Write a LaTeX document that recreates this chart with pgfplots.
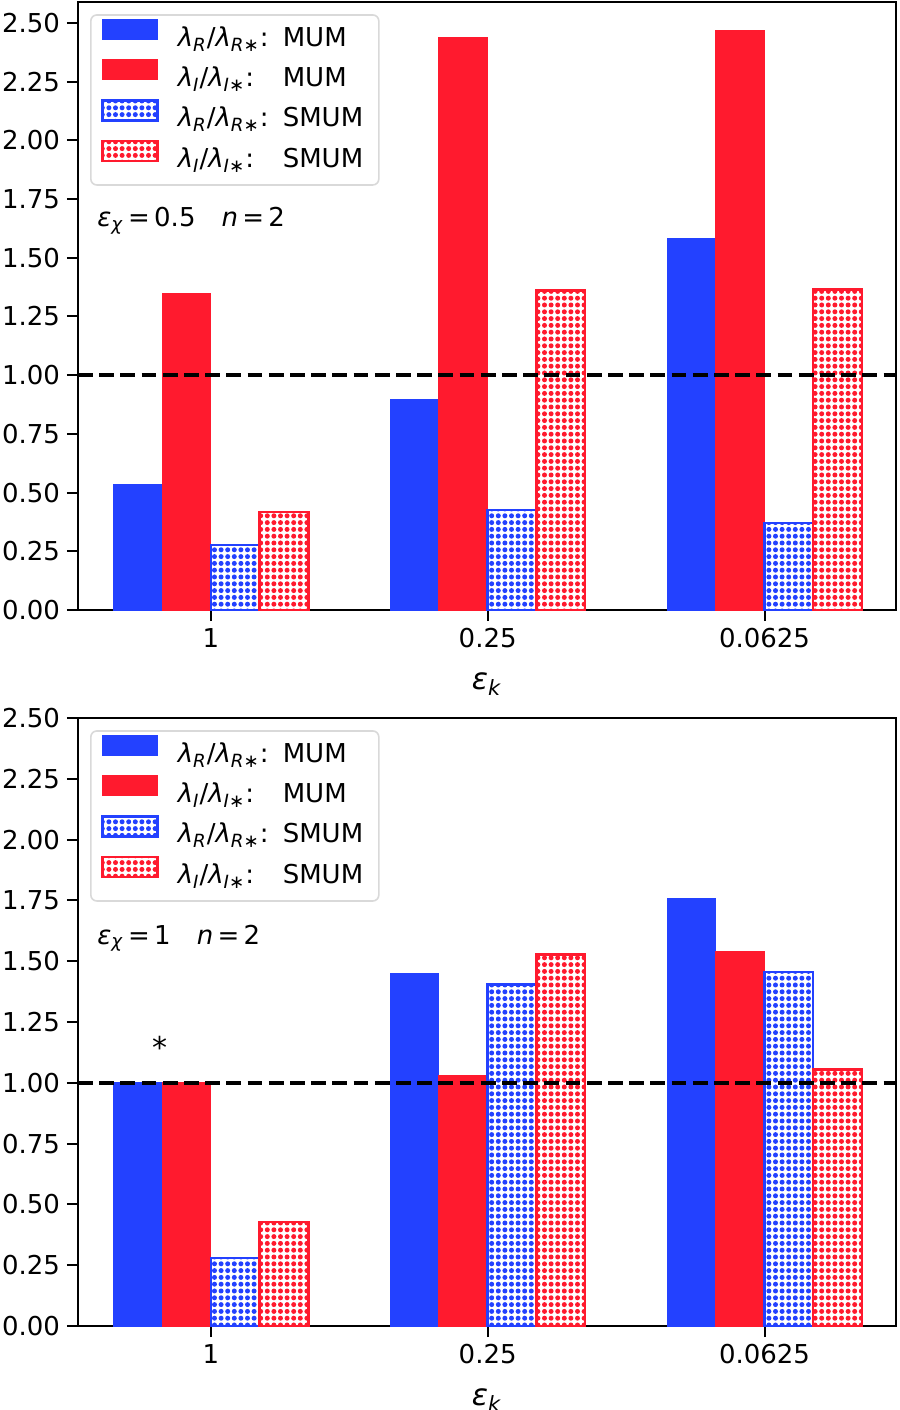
\documentclass[border=0pt]{standalone}
\usepackage{fontspec}
\setmainfont{DejaVu Sans}
\usepackage{pgfplots}
\pgfplotsset{compat=1.18}
\usetikzlibrary{patterns}
\definecolor{bb}{RGB}{35,65,255}
\definecolor{rr}{RGB}{255,26,46}
\pgfdeclarepatternformonly{bigdots}{\pgfqpoint{-0.5pt}{-0.5pt}}{\pgfqpoint{3.8pt}{3.9pt}}{\pgfqpoint{3.3pt}{3.4pt}}{%
  \pgfpathcircle{\pgfqpoint{1.65pt}{1.7pt}}{1.25pt}\pgfusepath{fill}}
\newcommand{\fs}{\fontsize{13}{15.6}\selectfont}
\newcommand{\lr}[1]{\textit{λ}\textsubscript{\textit{#1}}/\textit{λ}\textsubscript{\textit{#1}∗}}
\newcommand{\lab}[2]{\makebox[52.5pt][l]{\lr{#1}:}#2}
\pgfplotsset{
  myax/.style={
    scale only axis, width=409pt, height=304pt,
    xmin=-0.48, xmax=2.475, ymin=0,
    xtick={0,1,2}, xticklabels={1,0.25,0.0625},
    ytick={0,0.25,0.5,0.75,1,1.25,1.5,1.75,2,2.25,2.5},
    yticklabel style={/pgf/number format/.cd, fixed, fixed zerofill, precision=2},
    /pgf/number format/assume math mode=true,
    tick label style={font=\fs},
    xtick pos=left, ytick pos=left,
    tick align=outside, major tick length=5.5pt,
    tick style={black, line width=1pt},
    axis line style={line width=1.25pt},
    xlabel={\textit{ε}\textsubscript{\textit{k}}},
    xlabel style={font=\fontsize{15}{18}\selectfont, at={(axis description cs:0.5,0)}, anchor=center, yshift=-37pt},
    ybar, bar width=0.176,
    legend image code/.code={\path[##1, sharp corners] (0pt,-0.3pt) rectangle (27.5pt,9.7pt);},
    legend style={at={(0.0147,0.980)}, anchor=north west, draw=black!15, line width=0.8pt,
      rounded corners=3pt, fill=white, font=\fs, inner xsep=5.3pt, inner ysep=2.2pt,
      column sep=7pt, row sep=0pt,
      nodes={inner xsep=2.5pt, inner ysep=2pt, text height=11.5pt, text depth=4.5pt}},
    legend cell align=left,
  },
  sb/.style={fill=bb, draw=bb, line width=0.5pt, bar shift=-0.264},
  sr/.style={fill=rr, draw=rr, line width=0.5pt, bar shift=-0.088},
  hb/.style={pattern=bigdots, pattern color=bb, draw=bb, line width=1.2pt, bar shift=0.088},
  hr/.style={pattern=bigdots, pattern color=rr, draw=rr, line width=1.2pt, bar shift=0.264},
  dl/.style={black, line width=2pt, dash pattern=on 7.4pt off 3.2pt, forget plot, sharp plot},
}
\begin{document}
\begin{tikzpicture}
\begin{axis}[myax, at={(0,0)}, anchor=south west, ymax=2.589]
\addplot[sb] coordinates {(0,0.536) (1,0.897) (2,1.582)};
\addlegendentry{\lab{R}{MUM}}
\addplot[sr] coordinates {(0,1.348) (1,2.436) (2,2.466)};
\addlegendentry{\lab{I}{MUM}}
\addplot[hb] coordinates {(0,0.276) (1,0.425) (2,0.370)};
\addlegendentry{\lab{R}{SMUM}}
\addplot[hr] coordinates {(0,0.417) (1,1.360) (2,1.365)};
\addlegendentry{\lab{I}{SMUM}}
\addplot[dl] coordinates {(-0.48,1) (2.475,1)};
\node[anchor=base west, inner sep=0pt, font=\fs, xshift=9.5pt] at (rel axis cs:0,0.630)
  {\textit{ε}\textsubscript{\textit{χ}}\,=\,0.5\enspace\enspace\textit{n}\,=\,2};
\end{axis}
\begin{axis}[myax, at={(0,-358pt)}, anchor=south west, ymax=2.5]
\addplot[sb] coordinates {(0,1.0) (1,1.449) (2,1.757)};
\addlegendentry{\lab{R}{MUM}}
\addplot[sr] coordinates {(0,1.0) (1,1.030) (2,1.539)};
\addlegendentry{\lab{I}{MUM}}
\addplot[hb] coordinates {(0,0.279) (1,1.404) (2,1.455)};
\addlegendentry{\lab{R}{SMUM}}
\addplot[hr] coordinates {(0,0.427) (1,1.527) (2,1.055)};
\addlegendentry{\lab{I}{SMUM}}
\addplot[dl] coordinates {(-0.48,1) (2.475,1)};
\node[anchor=base west, inner sep=0pt, font=\fs, xshift=9.5pt] at (rel axis cs:0,0.628)
  {\textit{ε}\textsubscript{\textit{χ}}\,=\,1\enspace\enspace\textit{n}\,=\,2};
\node[anchor=base, inner sep=0pt, font=\fontsize{15}{18}\selectfont] at (axis cs:-0.183,1.10) {*};
\end{axis}
\pgfresetboundingbox
\path[use as bounding box] (-39pt,-400pt) rectangle (411pt,305pt);
\end{tikzpicture}
\end{document}
